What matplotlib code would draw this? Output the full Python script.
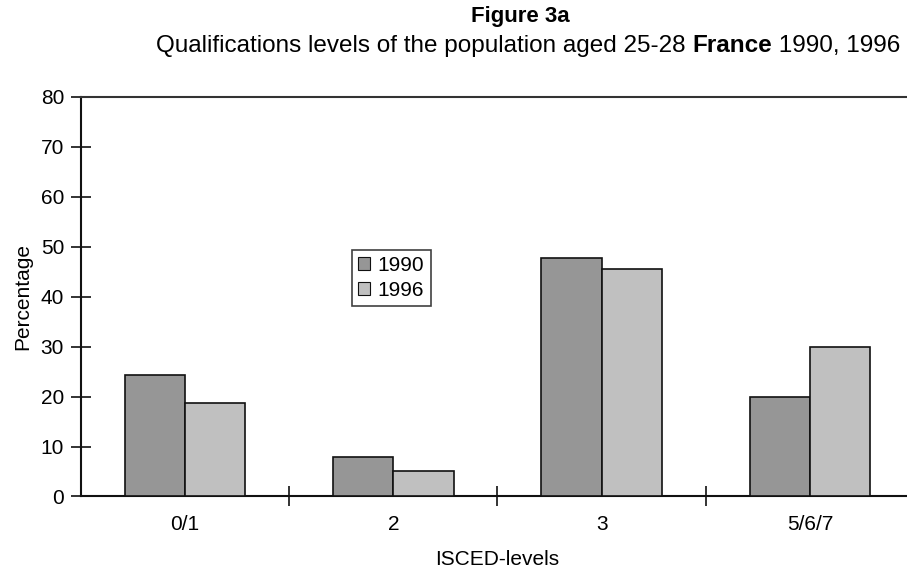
import matplotlib
matplotlib.use("Agg")
import matplotlib.pyplot as plt
import numpy as np

plt.rcParams['font.family'] = ['Liberation Sans', 'DejaVu Sans']

categories = ["0/1", "2", "3", "5/6/7"]
series_names = ["1990", "1996"]
values_1990 = [24.3, 7.9, 47.7, 19.9]
values_1996 = [18.7, 5.1, 45.5, 30.0]
y_ticks = [0, 10, 20, 30, 40, 50, 60, 70, 80]

FS = 15

fig = plt.figure(figsize=(9.07, 5.79), dpi=100)
ax = fig.add_axes([0.089, 0.1425, 0.919, 0.6900])

x = np.arange(len(categories))
width = 0.289
ax.bar(x - width / 2, values_1990, width, color="#969696", edgecolor="#111111",
       linewidth=1.2, label=series_names[0], zorder=3)
ax.bar(x + width / 2, values_1996, width, color="#c0c0c0", edgecolor="#111111",
       linewidth=1.2, label=series_names[1], zorder=3)

ax.set_xlim(-0.5, len(categories) - 0.5)
ax.set_ylim(0, 80)
ax.set_yticks(y_ticks)
ax.set_yticklabels([str(t) for t in y_ticks], fontsize=FS)

# category labels centred, tick marks on the category boundaries
ax.set_xticks(x)
ax.set_xticklabels(categories, fontsize=FS)
ax.tick_params(axis='x', which='major', length=0, pad=13)
ax.set_xticks(np.arange(0.5, len(categories) - 0.5, 1.0), minor=True)
ax.tick_params(axis='x', which='minor', direction='inout', length=14, width=1.2, color='#111111')
ax.tick_params(axis='y', direction='inout', length=14, width=1.2, color='#111111', pad=5)

for side in ['left', 'bottom']:
    ax.spines[side].set_linewidth(1.5)
    ax.spines[side].set_color('#111111')
ax.spines['top'].set_linewidth(1.5)
ax.spines['top'].set_color('#333333')
ax.spines['right'].set_visible(False)

ax.set_xlabel("ISCED-levels", fontsize=FS, labelpad=12)
ax.set_ylabel("Percentage", fontsize=FS, labelpad=6)

leg = ax.legend(loc='upper left', bbox_to_anchor=(0.325, 0.618), fontsize=FS,
                frameon=True, fancybox=False, edgecolor='#111111',
                handlelength=0.6, handleheight=0.6, handletextpad=0.35,
                borderpad=0.3, labelspacing=0.3, borderaxespad=0)
leg.get_frame().set_linewidth(1.2)
for h in leg.legend_handles:
    h.set_linewidth(0.8)

fig.text(520 / 907, 1 - 22 / 579, "Figure 3a", ha='center', va='baseline',
         fontsize=16, fontweight='bold')

# subtitle with a bold country name in the middle
subtitle_parts = [("Qualifications levels of the population aged 25-28 ", 'normal'),
                  ("France", 'bold'),
                  (" 1990, 1996", 'normal')]
renderer = fig.canvas.get_renderer()
texts = []
for s, w in subtitle_parts:
    t = fig.text(0, 1 - 52 / 579, s, ha='left', va='baseline', fontsize=17.5, fontweight=w)
    texts.append(t)
widths = [t.get_window_extent(renderer).width for t in texts]
total = sum(widths)
start = 528 - total / 2
for t, wd in zip(texts, widths):
    t.set_x(start / fig.bbox.width)
    start += wd

fig.savefig("out.png", dpi=100)
